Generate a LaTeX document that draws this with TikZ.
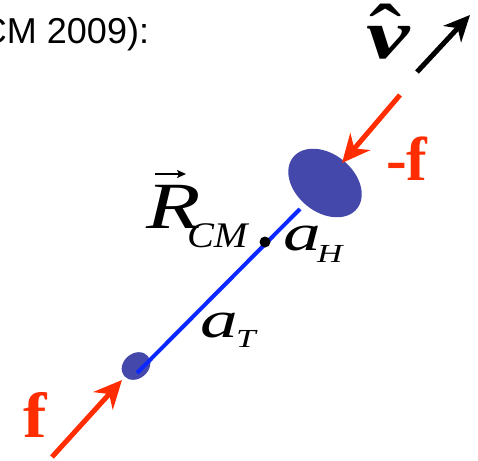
\documentclass[tikz,border=0pt]{standalone}
\usepackage{fontspec}
\setmainfont{Liberation Serif}
\newfontfamily\arialfont{Liberation Sans}
\usetikzlibrary{arrows.meta,shapes.geometric}
\definecolor{fred}{RGB}{255,45,0}
\definecolor{fblue}{RGB}{10,40,255}
\definecolor{mass}{RGB}{68,72,170}
\newcommand{\wide}[2][1.35]{\scalebox{#1}[1]{#2}}
\begin{document}
\begin{tikzpicture}[x=1pt,y=-1pt,
  lbl/.style={anchor=base west, inner sep=0pt, outer sep=0pt},
  forcearrow/.style={draw=fred, line width=5pt, -{Stealth[length=28pt, width=26pt, inset=9pt]}},
  dirarrow/.style={draw=black, line width=5pt, -{Stealth[length=26pt, width=24pt, inset=8pt]}},
  vecarrow/.style={draw=black, line width=1.8pt, -{Stealth[length=9pt, width=8pt, inset=2pt]}},
  massblob/.style={ellipse, fill=mass, inner sep=0pt}]
\useasboundingbox (0,0) rectangle (478,460);
% caption fragment
\node[lbl, font=\arialfont\fontsize{36}{36}\selectfont] (cap) at (-19,43) {CM 2009):};
% masses
\node[massblob, minimum width=82pt, minimum height=58pt, rotate=-39] (head) at (325,183) {};
\node[massblob, minimum width=31pt, minimum height=25pt, rotate=40] (tail) at (136,366) {};
% rod
\coordinate (rodlow) at (137,373);
\coordinate (rodhigh) at (300,209);
\draw[fblue, line width=4pt] (rodlow) -- (rodhigh);
% centre of mass
\node[circle, fill=black, inner sep=0pt, minimum size=11pt] (cm) at (265,242) {};
% labels
\node[lbl, font=\fontsize{66}{66}\selectfont\itshape] (R) at (146,228) {\wide{R}};
\coordinate (vecL) at (155,174);
\coordinate (vecR) at (186,174);
\draw[vecarrow] (vecL) -- (vecR);
\node[lbl, font=\fontsize{36}{36}\selectfont\itshape] (Rsub) at (187,247) {\wide[1.12]{CM}};
\node[lbl, font=\fontsize{52}{52}\selectfont\itshape] (aH) at (283,250) {\wide[1.45]{a}};
\node[lbl, font=\fontsize{26}{26}\selectfont\itshape] (aHsub) at (317,262) {\wide[1.35]{H}};
\node[lbl, font=\fontsize{52}{52}\selectfont\itshape] (aT) at (200,337) {\wide[1.45]{a}};
\node[lbl, font=\fontsize{26}{26}\selectfont\itshape] (aTsub) at (236,347) {\wide[1.35]{T}};
\node[lbl, font=\fontsize{70}{70}\selectfont\bfseries\itshape] (v) at (366,58) {\wide[1.4]{v}};
\node[anchor=north, inner sep=0pt, font=\fontsize{84}{84}\selectfont] (vhat) at (386,4) {\wide[1.15]{ˆ}};
\node[lbl, font=\fontsize{64}{64}\selectfont\bfseries, text=fred] (f) at (23,437) {\wide[1.1]{f}};
\node[lbl, font=\fontsize{62}{62}\selectfont\bfseries, text=fred] (mf) at (386,180) {-f};
% force and direction arrows
\coordinate (fstart) at (52,457);
\coordinate (ftip) at (122,380);
\draw[forcearrow] (fstart) -- (ftip);
\coordinate (mfstart) at (400,95);
\coordinate (mftip) at (342,163);
\draw[forcearrow] (mfstart) -- (mftip);
\coordinate (vstart) at (417,72);
\coordinate (vtip) at (470,15);
\draw[dirarrow] (vstart) -- (vtip);
\end{tikzpicture}
\end{document}
